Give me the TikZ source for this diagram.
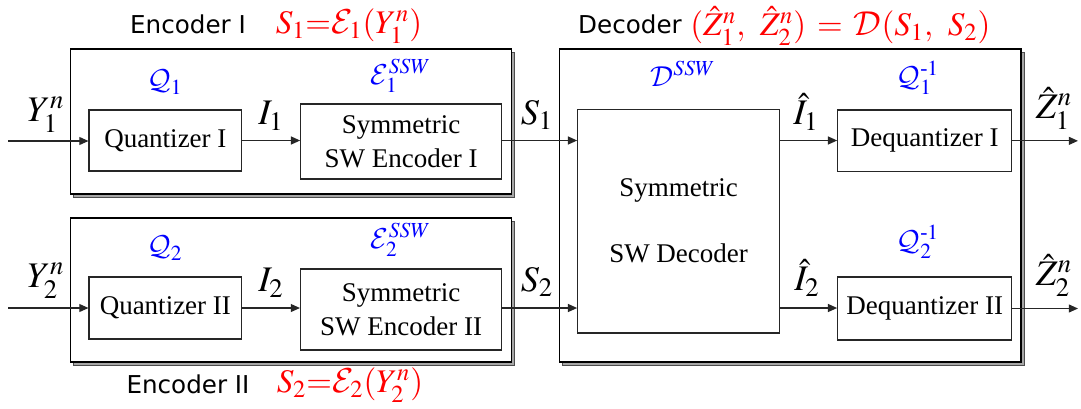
\documentclass[tikz,border=0pt]{standalone}
\usepackage{amsmath}
\usepackage{mathptmx}
\DeclareMathAlphabet{\mathcal}{OMS}{cmsy}{m}{n}
\usepackage{fontspec}
\setmainfont{Liberation Serif}
\newfontfamily\boxfont{Liberation Serif}
\newfontfamily\labelfont{DejaVu Sans}
\usetikzlibrary{arrows.meta,fit,shadows}

\begin{document}
\begin{tikzpicture}[x=0.5pt,y=-0.5pt,
  outer/.style={draw=black, line width=0.6pt, fill=white, inner sep=0pt,
    general shadow={shadow xshift=1.5pt, shadow yshift=-1.5pt,
      fill=black!35, draw=black!70, line width=0.4pt}},
  blk/.style={draw=black!85, line width=0.55pt, fill=white, inner sep=0pt},
  btxt/.style={inner sep=0pt, align=center,
    font=\boxfont\fontsize{13.5}{17}\selectfont},
  arr/.style={draw=black!85, line width=0.6pt,
    -{Triangle[length=4.6pt,width=4pt]}},
  sig/.style={inner sep=0pt, font=\fontsize{18}{21}\selectfont},
  fn/.style={inner sep=0pt, text=blue, font=\fontsize{14.5}{17}\selectfont},
  eq/.style={inner sep=0pt, text=red, font=\fontsize{16.5}{20}\selectfont},
  ttl/.style={inner sep=0pt, font=\labelfont\fontsize{12.3}{15}\selectfont}]

\useasboundingbox (0,0) rectangle (1081,408);

% enclosing units
\node[outer, fit={(70.7,49) (511.7,194)}] (encA) {};
\node[outer, fit={(70.7,218) (511.7,362)}] (encB) {};
\node[outer, fit={(559.3,49) (1021,362)}] (decU) {};

% processing blocks
\node[blk, fit={(89,110) (241.7,171)}] (q1) {};
\node[btxt] at (q1.center) {Quantizer I};
\node[blk, fit={(300.7,104) (501.7,179)}] (e1) {};
\node[btxt] at (e1.center) {Symmetric\\SW Encoder I};
\node[blk, fit={(89,277) (241.7,339)}] (q2) {};
\node[btxt] at (q2.center) {Quantizer II};
\node[blk, fit={(300.5,269) (501.7,350)}] (e2) {};
\node[btxt] at (e2.center) {Symmetric\\SW Encoder II};
\node[blk, fit={(577.7,109.5) (779.5,333)}] (swd) {};
\node[btxt] at (swd.center) {Symmetric\\[16pt]SW Decoder};
\node[blk, fit={(837.7,110) (1011.7,171.7)}] (dq1) {};
\node[btxt] at (dq1.center) {Dequantizer I};
\node[blk, fit={(837.7,277) (1011.7,340)}] (dq2) {};
\node[btxt] at (dq2.center) {Dequantizer II};

% free ends of the input and output lines
\coordinate (inA) at (8,141);
\coordinate (inB) at (8,308);
\coordinate (outA) at (1078,141);
\coordinate (outB) at (1078,308);

% first branch
\draw[arr] (inA) -- (inA -| q1.west);
\draw[arr] (q1.east) -- (q1.east -| e1.west);
\draw[arr] (q1.east -| e1.east) -- (q1.east -| swd.west);
\draw[arr] (q1.east -| swd.east) -- (q1.east -| dq1.west);
\draw[arr] (dq1.east) -- (dq1.east -| outA);

% second branch
\draw[arr] (inB) -- (inB -| q2.west);
\draw[arr] (q2.east) -- (q2.east -| e2.west);
\draw[arr] (q2.east -| e2.east) -- (q2.east -| swd.west);
\draw[arr] (q2.east -| swd.east) -- (q2.east -| dq2.west);
\draw[arr] (dq2.east) -- (dq2.east -| outB);

% signal labels
\node[sig] (lY1) at (46,115) {$Y_1^n$};
\node[sig] (lI1) at (271,116) {$I_1$};
\node[sig] (lS1) at (537,115) {$S_1$};
\node[sig] (lJ1) at (806,112) {$\hat{I}_1$};
\node[sig] (lZ1) at (1054,108) {$\hat{Z}_1^n$};
\node[sig] (lY2) at (46,281) {$Y_2^n$};
\node[sig] (lI2) at (271,283) {$I_2$};
\node[sig] (lS2) at (537,282) {$S_2$};
\node[sig] (lJ2) at (807,278) {$\hat{I}_2$};
\node[sig] (lZ2) at (1054,275) {$\hat{Z}_2^n$};

% mapping names
\node[fn] (fQ1) at (165,82) {$\mathcal{Q}_1$};
\node[fn] (fE1) at (401,76) {$\mathcal{E}_1^{SSW}$};
\node[fn] (fD) at (683,74) {$\mathcal{D}^{SSW}$};
\node[fn] (fR1) at (918,78) {$\mathcal{Q}_1^{\text{-}1}$};
\node[fn] (fQ2) at (165,248) {$\mathcal{Q}_2$};
\node[fn] (fE2) at (401,240) {$\mathcal{E}_2^{SSW}$};
\node[fn] (fR2) at (918,242) {$\mathcal{Q}_2^{\text{-}1}$};

% unit titles
\node[ttl] (tA) at (188,24) {Encoder I};
\node[eq] (xA) at (349,26) {$S_1{=}\mathcal{E}_1(Y_1^n)$};
\node[ttl] (tD) at (630,24) {Decoder};
\node[eq, anchor=west] (xD) at (690,26) {$(\hat{Z}_1^n,\;\, \hat{Z}_2^n) \,=\, \mathcal{D}(S_1,\;\, S_2)$};
\node[ttl] (tB) at (188,384) {Encoder II};
\node[eq] (xB) at (350,385) {$S_2{=}\mathcal{E}_2(Y_2^n)$};
\end{tikzpicture}
\end{document}
